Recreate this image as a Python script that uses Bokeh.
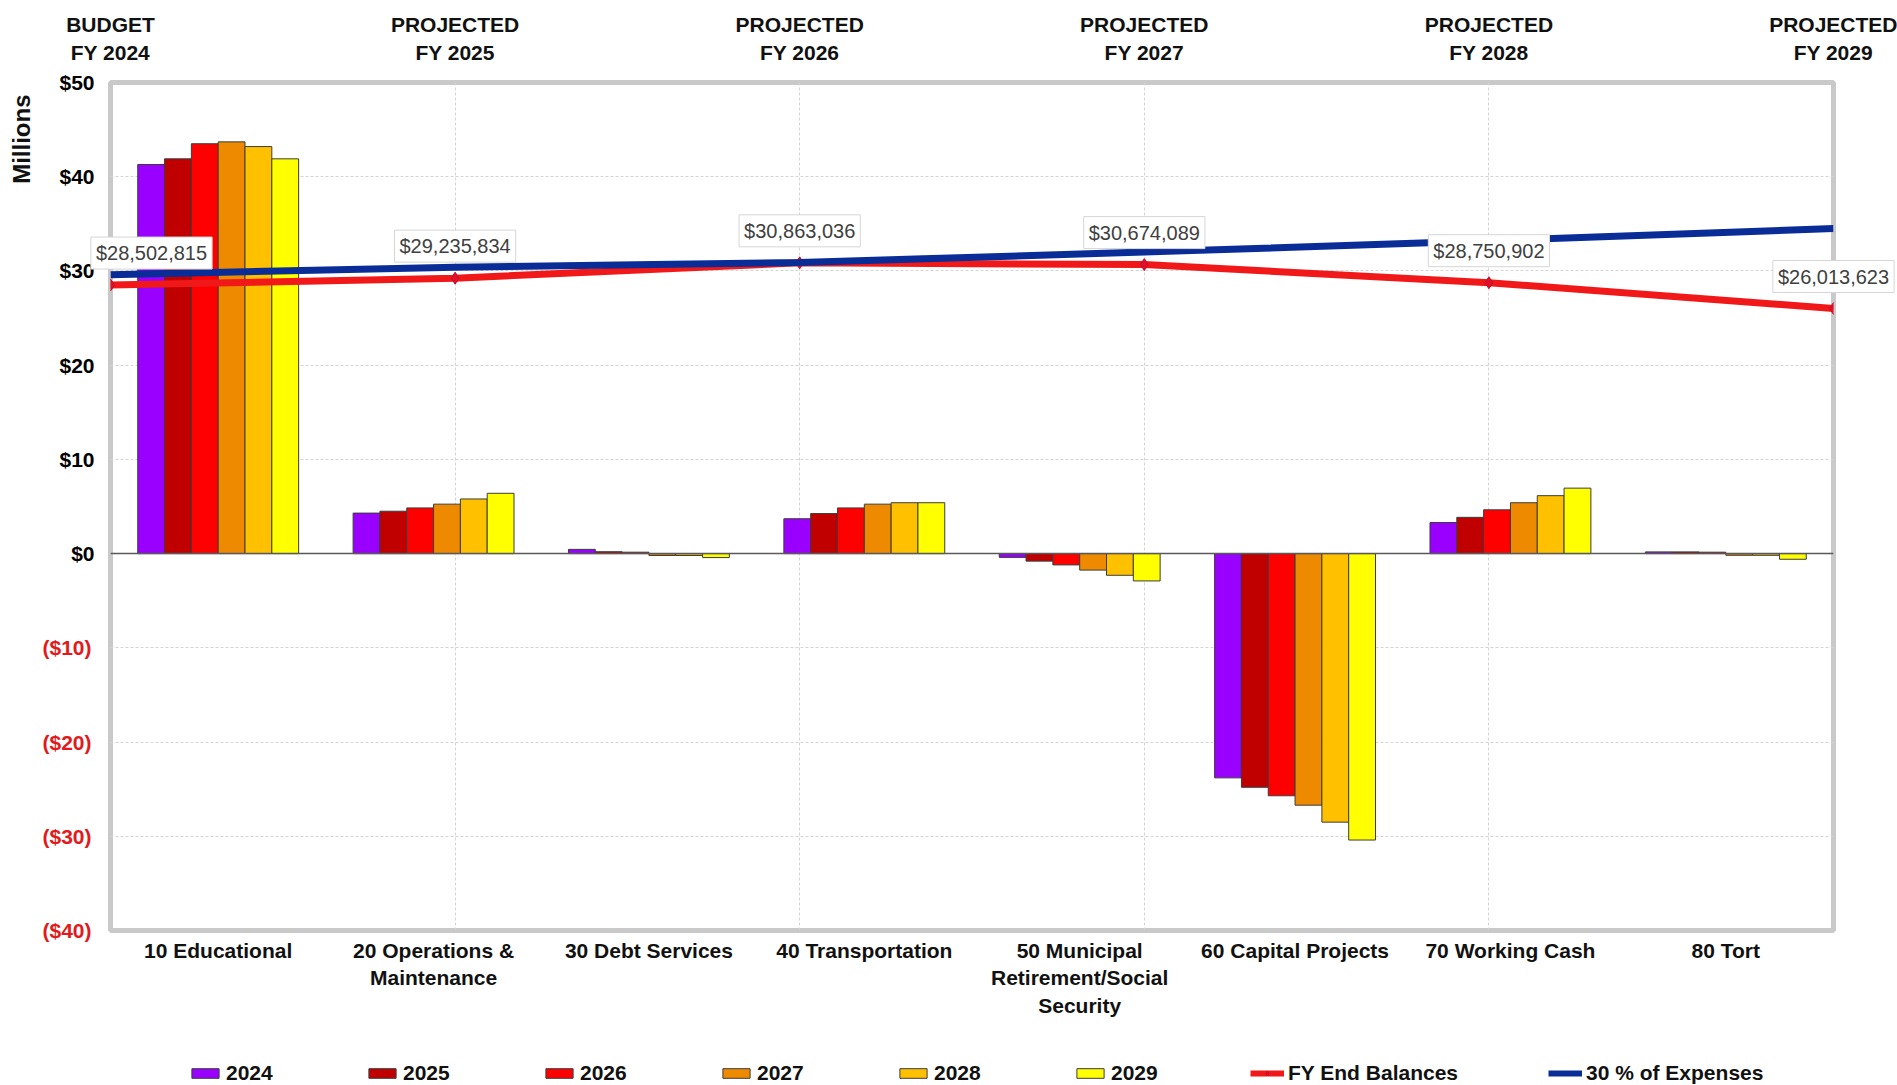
from bokeh.plotting import figure
from bokeh.layouts import column
from bokeh.models import (Range1d, LinearAxis, FixedTicker, Grid, Span, Title,
                          Legend, LegendItem, ColumnDataSource)
from bokeh.transform import dodge
from bokeh.core.properties import value
from bokeh.embed import file_html
from bokeh.resources import INLINE

# ---------------- data ----------------
categories = ["10 Educational", "20 Operations & Maintenance", "30 Debt Services",
              "40 Transportation", "50 Municipal Retirement/Social Security",
              "60 Capital Projects", "70 Working Cash", "80 Tort"]
category_labels = ["10 Educational", "20 Operations &\nMaintenance", "30 Debt Services",
                   "40 Transportation", "50 Municipal\nRetirement/Social\nSecurity",
                   "60 Capital Projects", "70 Working Cash", "80 Tort"]
years = ["2024", "2025", "2026", "2027", "2028", "2029"]
v2024 = [41.3, 4.3, 0.45, 3.7, -0.4, -23.8, 3.3, 0.18]
v2025 = [41.9, 4.5, 0.2, 4.25, -0.8, -24.8, 3.85, 0.18]
v2026 = [43.5, 4.85, 0.15, 4.85, -1.2, -25.7, 4.65, 0.15]
v2027 = [43.7, 5.25, -0.2, 5.25, -1.75, -26.7, 5.4, -0.18]
v2028 = [43.2, 5.8, -0.2, 5.4, -2.3, -28.5, 6.15, -0.18]
v2029 = [41.9, 6.4, -0.42, 5.4, -2.9, -30.4, 6.95, -0.6]
year_colors = ["#9900ff", "#c00000", "#ff0000", "#ee8a00", "#ffc000", "#ffff00"]

fy_labels = ["BUDGET\nFY 2024", "PROJECTED\nFY 2025", "PROJECTED\nFY 2026",
             "PROJECTED\nFY 2027", "PROJECTED\nFY 2028", "PROJECTED\nFY 2029"]
fy_end_balances = [28502815, 29235834, 30863036, 30674089, 28750902, 26013623]
expenses_30pct = [29.6, 30.4, 30.9, 32.0, 33.2, 34.5]  # millions

pos_ticks = [0, 10, 20, 30, 40, 50]
neg_ticks = [-40, -30, -20, -10]

FONT = "Liberation Sans"
FS = "21px"
RED = "#f01818"
BLUE = "#0a2c96"

cat_x = [i + 0.5 for i in range(len(categories))]
fy_idx = list(range(len(fy_labels)))

W = 1897
LEG_H = 50

# ---------------- main figure ----------------
p = figure(width=W, height=1085 - LEG_H,
           x_range=Range1d(0, len(categories)),
           y_range=Range1d(min(neg_ticks), max(pos_ticks)),
           output_backend="svg", toolbar_location=None,
           min_border_left=109, min_border_right=64,
           min_border_top=82, min_border_bottom=1085 - LEG_H - 930)
p.extra_x_ranges = {"fy": Range1d(0, len(fy_labels) - 1)}
p.background_fill_color = "white"
p.border_fill_color = "white"
p.outline_line_color = "#c9c9c9"
p.outline_line_width = 5

# grids
p.xgrid.visible = False
p.ygrid.ticker = FixedTicker(ticks=neg_ticks + pos_ticks)
p.ygrid.grid_line_color = "#d4d4d4"
p.ygrid.grid_line_dash = "3 2"
p.add_layout(Grid(dimension=0, ticker=FixedTicker(ticks=fy_idx), x_range_name="fy",
                  grid_line_color="#d4d4d4", grid_line_dash="3 2"))

# bars
src = ColumnDataSource(dict(xc=cat_x, y2024=v2024, y2025=v2025, y2026=v2026,
                            y2027=v2027, y2028=v2028, y2029=v2029))
bw = 0.1245
for j, yr in enumerate(years):
    p.vbar(x=dodge("xc", (j - 2.5) * bw), top="y" + yr, bottom=0,
           width=bw, source=src, fill_color=year_colors[j],
           line_color="#3c3c3c", line_width=1)

p.add_layout(Span(location=0, dimension="width", line_color="#5a5a5a", line_width=1.5))

# lines
fy_m = [v / 1e6 for v in fy_end_balances]
p.line(fy_idx, fy_m, x_range_name="fy", line_color=RED, line_width=7)
p.scatter(fy_idx, fy_m, x_range_name="fy", marker="diamond", size=12,
          fill_color="#e0102a", line_color="#c0102a")
p.line(fy_idx, expenses_30pct, x_range_name="fy", line_color=BLUE, line_width=7)

# data labels (overlay level so they may run past the frame like the original)
lab_src = ColumnDataSource(dict(x=fy_idx, y=fy_m,
                                t=["${:,}".format(v) for v in fy_end_balances],
                                dx=[41, 0, 0, 0, 0, 0]))
p.text(x="x", y="y", text="t", x_offset="dx", y_offset=-32, source=lab_src,
       x_range_name="fy", level="overlay",
       text_align="center", text_baseline="middle",
       text_font=value(FONT), text_font_size="20px", text_color="#404040",
       background_fill_color="white", border_line_color="#d6d6d6",
       border_line_width=1, padding=5)

# ---------------- axes ----------------
def style_axis(ax, standoff, color="#111111"):
    ax.axis_line_color = None
    ax.major_tick_line_color = None
    ax.minor_tick_line_color = None
    ax.major_tick_out = 0
    ax.major_tick_in = 0
    ax.major_label_standoff = standoff
    ax.major_label_text_font = FONT
    ax.major_label_text_font_size = FS
    ax.major_label_text_font_style = "bold"
    ax.major_label_text_color = color

yax = p.yaxis[0]
yax.ticker = FixedTicker(ticks=pos_ticks)
yax.major_label_overrides = {t: "${}".format(t) for t in pos_ticks}
style_axis(yax, 16, "black")

# negative labels in red: second left axis, pulled in to share the right edge
neg_ax = LinearAxis(ticker=FixedTicker(ticks=neg_ticks),
                    major_label_overrides={t: "(${})".format(-t) for t in neg_ticks})
style_axis(neg_ax, -35, "#e31a1c")
p.add_layout(neg_ax, "left")

p.add_layout(Title(text="Millions", align="right", offset=12, text_font=FONT,
                   text_font_size="24px", text_font_style="bold",
                   text_color="#111111"), "left")

xax = p.xaxis[0]
xax.ticker = FixedTicker(ticks=cat_x)
xax.major_label_overrides = dict(zip(cat_x, category_labels))
style_axis(xax, 8)

top = LinearAxis(x_range_name="fy", ticker=FixedTicker(ticks=fy_idx),
                 major_label_overrides=dict(zip(fy_idx, fy_labels)))
style_axis(top, 19)
p.add_layout(top, "above")

# ---------------- legend strip ----------------
lf = figure(width=W, height=LEG_H, x_range=Range1d(0, 1), y_range=Range1d(0, 1),
            x_axis_type=None, y_axis_type=None, output_backend="svg",
            toolbar_location=None, min_border=0)
lf.outline_line_color = None
lf.background_fill_color = "white"
lf.border_fill_color = "white"
lf.xgrid.visible = False
lf.ygrid.visible = False
# legend-only renderers: one row of missing values so nothing is plotted
nodata = ColumnDataSource(dict(x=[float("nan")], y=[float("nan")]))
items = []
for j, yr in enumerate(years):
    r = lf.vbar(x="x", top="y", width=0.1, source=nodata, fill_color=year_colors[j],
                line_color="#3c3c3c", line_width=1)
    items.append(LegendItem(label=yr, renderers=[r]))
rl = lf.line(x="x", y="y", source=nodata, line_color=RED, line_width=6)
rp = lf.scatter(x="x", y="y", source=nodata, marker="diamond", size=12,
                fill_color="#e0102a", line_color="#c0102a")
items.append(LegendItem(label="FY End Balances", renderers=[rl, rp]))
bl = lf.line(x="x", y="y", source=nodata, line_color=BLUE, line_width=6)

common = dict(orientation="horizontal", glyph_width=34, glyph_height=12, label_height=25,
              spacing=0, label_standoff=4, padding=0, margin=0, border_line_color=None,
              background_fill_alpha=0, label_text_font=FONT, label_text_font_size=FS,
              label_text_font_style="bold", label_text_color="#111111")
lf.add_layout(Legend(items=items, location=(78, 0), label_width=139, **common), "center")
lf.add_layout(Legend(items=[LegendItem(label="30 % of Expenses", renderers=[bl])],
                     location=(1438, 0), **common), "center")

open("out.html", "w").write(file_html(column(p, lf, spacing=0), INLINE))
